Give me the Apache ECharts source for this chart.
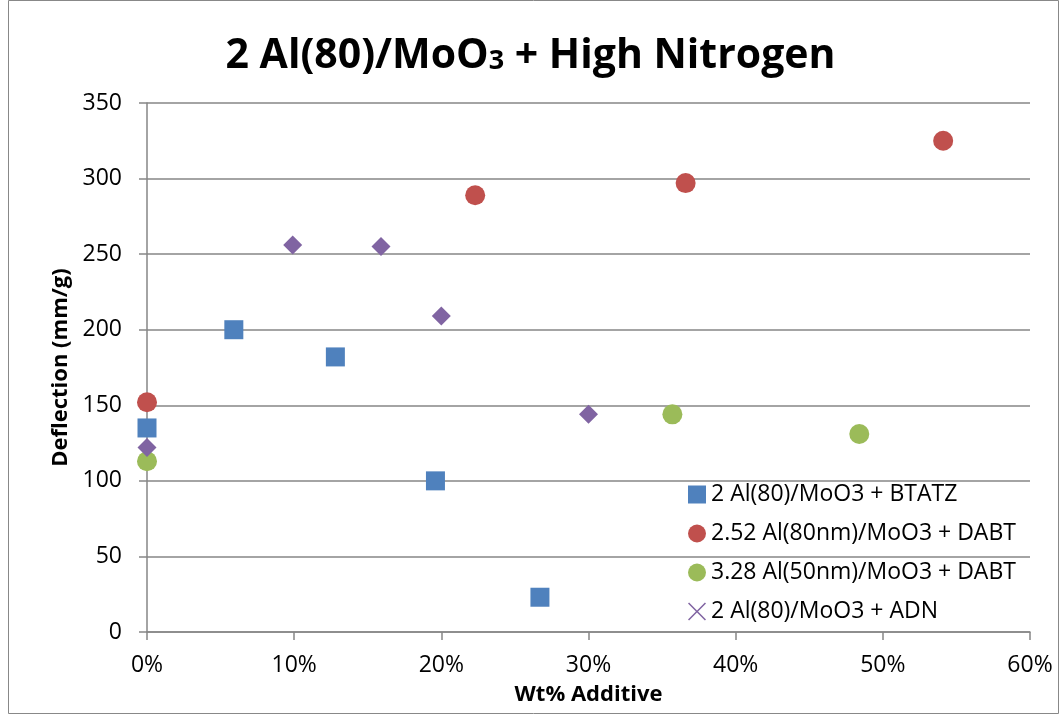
<!DOCTYPE html>
<html><head><meta charset="utf-8">
<script src="https://cdn.jsdelivr.net/npm/echarts@6/dist/echarts.min.js"></script>
<style>html,body{margin:0;padding:0;background:#fff}#c{width:1061px;height:715px}</style>
</head><body><div id="c"></div>
<script>
const seriesNames = ['2 Al(80)/MoO3 + BTATZ','2.52 Al(80nm)/MoO3 + DABT','3.28 Al(50nm)/MoO3 + DABT','2 Al(80)/MoO3 + ADN'];
const btatzX = [0, 5.9, 12.8, 19.6, 26.7];
const btatzY = [135, 200, 182, 100, 23];
const dabt80X = [0, 22.3, 36.6, 54.1];
const dabt80Y = [152, 289, 297, 325];
const dabt50X = [0, 35.7, 48.4];
const dabt50Y = [113, 144, 131];
const adnX = [0, 9.9, 15.9, 20.0, 30.0];
const adnY = [122, 256, 255, 209, 144];
const xTicks = [0,10,20,30,40,50,60];

const font = '"Open Sans", "Liberation Sans", sans-serif';
const pair = (xs, ys) => xs.map((x,i)=>[x, ys[i]]);
const crossIcon = 'path://M0,0.6 L0.6,0 L5,4.4 L9.4,0 L10,0.6 L5.6,5 L10,9.4 L9.4,10 L5,5.6 L0.6,10 L0,9.4 L4.4,5 Z';

const chart = echarts.init(document.getElementById('c'), null, {renderer:'canvas'});
chart.setOption({
  animation:false,
  backgroundColor:'#fff',
  graphic:[{type:'rect', shape:{x:8.5,y:0.5,width:1050,height:713}, style:{fill:'none', stroke:'#888', lineWidth:1}, silent:true}],
  title:{
    text:'2 Al(80)/MoO{s|3} + High Nitrogen',
    left:'center', top:31,
    textStyle:{fontFamily:font, fontWeight:'bold', fontSize:41, color:'#000',
      rich:{s:{fontFamily:font, fontWeight:'bold', fontSize:27, color:'#000', verticalAlign:'bottom', padding:[0,0,2,0]}}}
  },
  grid:{left:147, right:31, top:103, bottom:83, containLabel:false},
  xAxis:{
    type:'value', min:0, max:60, interval:10,
    name:'Wt% Additive', nameLocation:'middle', nameGap:52,
    nameTextStyle:{fontFamily:font, fontWeight:'bold', fontSize:22, color:'#000'},
    axisLine:{show:true, onZero:false, lineStyle:{color:'#868686', width:1.5}},
    axisTick:{show:true, length:8, lineStyle:{color:'#868686', width:1.5}},
    axisLabel:{fontFamily:font, fontSize:23, color:'#000', margin:22, formatter:v=>v+'%'},
    splitLine:{show:false}
  },
  yAxis:{
    type:'value', min:0, max:350, interval:50,
    name:'Deflection (mm/g)', nameLocation:'middle', nameGap:73, nameRotate:90,
    nameTextStyle:{fontFamily:font, fontWeight:'bold', fontSize:22, color:'#000'},
    axisLine:{show:true, lineStyle:{color:'#868686', width:1.5}},
    axisTick:{show:true, length:8, lineStyle:{color:'#868686', width:1.5}},
    axisLabel:{fontFamily:font, fontSize:23, color:'#000', margin:25},
    splitLine:{show:true, lineStyle:{color:'#868686', width:1.5}}
  },
  legend:{
    orient:'vertical', left:683, top:478, itemGap:16, itemWidth:18, itemHeight:18,
    textStyle:{fontFamily:font, fontSize:23, color:'#000'},
    data:[
      {name:seriesNames[0], icon:'rect'},
      {name:seriesNames[1], icon:'circle'},
      {name:seriesNames[2], icon:'circle'},
      {name:seriesNames[3], icon:crossIcon}
    ]
  },
  series:[
    {name:seriesNames[0], type:'scatter', symbol:'rect', symbolSize:19, itemStyle:{color:'#4F81BD', opacity:1}, data:pair(btatzX,btatzY)},
    {name:seriesNames[1], type:'scatter', symbol:'circle', symbolSize:20, itemStyle:{color:'#C0504D', opacity:1}, data:pair(dabt80X,dabt80Y)},
    {name:seriesNames[2], type:'scatter', symbol:'circle', symbolSize:20, itemStyle:{color:'#9BBB59', opacity:1}, data:pair(dabt50X,dabt50Y)},
    {name:seriesNames[3], type:'scatter', symbol:'diamond', symbolSize:19, itemStyle:{color:'#8064A2', opacity:1}, data:pair(adnX,adnY)}
  ]
});
</script></body></html>
